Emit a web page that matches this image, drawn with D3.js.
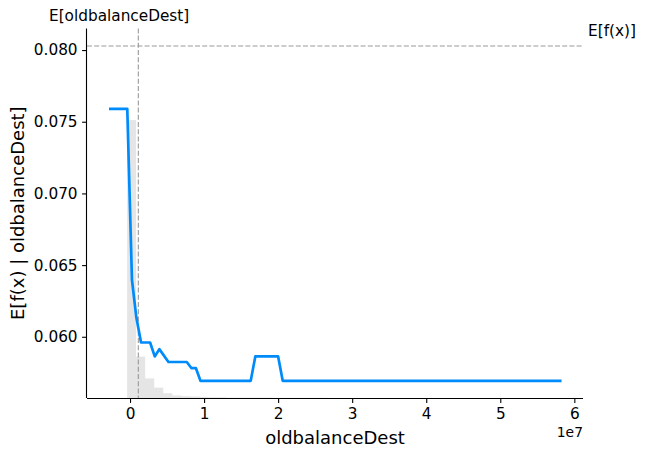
<!DOCTYPE html>
<html lang="en">
<head>
    <meta charset="UTF-8">
    <title>Partial dependence: oldbalanceDest</title>
    <style>
        body {
            margin: 0;
            background-color: white;
        }
        svg text {
            font-family: "DejaVu Sans", sans-serif;
            fill: #000;
        }
    </style>
    <script src="https://d3js.org/d3.v7.min.js"></script>
</head>
<body>
    <svg id="chart" width="645" height="457"></svg>
    <script>
        // partial dependence line (vertices of the model curve)
        const lineX = [-2840000, -370000, 260000, 860000, 1490000, 2710000, 3340000, 3960000,
            5190000, 7660000, 8280000, 8890000, 9510000, 16300000, 16920000, 20000000, 20620000, 58270000];
        const lineY = [0.07589, 0.07589, 0.06397, 0.06132, 0.05960, 0.05960, 0.05863, 0.05914,
            0.05824, 0.05824, 0.05782, 0.05782, 0.05693, 0.05693, 0.05863, 0.05863, 0.05693, 0.05693];

        // histogram of the feature, 50 bins over the line's range, as share of all rows
        const histShare = [0, 0, 0.752, 0.112, 0.053, 0.028, 0.013, 0.007, 0.005, 0.004,
            0.003, 0.002, 0.002, 0.001, 0.001, 0.001, 0.001, 0.001, 0.0005, 0.0005,
            0.0005, 0.0005, 0.0005, 0.0005, 0, 0, 0, 0, 0, 0,
            0, 0, 0, 0, 0, 0, 0, 0, 0, 0,
            0, 0, 0, 0, 0, 0, 0, 0, 0, 0];

        const meanX = 1120000;          // E[oldbalanceDest]
        const expectedValue = 0.08028;  // E[f(x)]

        const xTicks = [0, 1e7, 2e7, 3e7, 4e7, 5e7, 6e7];
        const yTicks = [0.060, 0.065, 0.070, 0.075, 0.080];

        const featureName = "oldbalanceDest";

        const svg = d3.select('#chart');
        const plotLeft = 87, plotRight = 583, plotTop = 28.4, plotBottom = 398;
        const blue = '#008BFB';

        const x = d3.scaleLinear().domain([-5.81e6, 61.17e6]).range([plotLeft, plotRight]);
        const y = d3.scaleLinear().domain([0.05573, 0.08151]).range([plotBottom, plotTop]);
        // twin axes used for the histogram and the E[feature] label
        const xHist = d3.scaleLinear().domain([lineX[0], lineX[lineX.length - 1]]).range([plotLeft, plotRight]);
        const yHist = d3.scaleLinear().domain([0, 1]).range([plotBottom, plotTop]);

        // histogram
        const binW = (lineX[lineX.length - 1] - lineX[0]) / histShare.length;
        svg.append('g')
            .selectAll('rect')
            .data(histShare)
            .enter().append('rect')
            .attr('x', (d, i) => x(lineX[0] + i * binW))
            .attr('width', (d, i) => x(lineX[0] + (i + 1) * binW) - x(lineX[0] + i * binW))
            .attr('y', d => yHist(d))
            .attr('height', d => plotBottom - yHist(d))
            .attr('fill', 'black')
            .attr('fill-opacity', 0.1);

        // reference lines
        svg.append('line')
            .attr('x1', x(meanX)).attr('x2', x(meanX))
            .attr('y1', plotTop).attr('y2', plotBottom)
            .attr('stroke', '#999999').attr('stroke-width', 1.1)
            .attr('stroke-dasharray', '5,2.2');

        svg.append('line')
            .attr('x1', plotLeft).attr('x2', plotRight)
            .attr('y1', y(expectedValue)).attr('y2', y(expectedValue))
            .attr('stroke', '#999999').attr('stroke-width', 1.1)
            .attr('stroke-dasharray', '5,2.2');

        // dependence line
        const line = d3.line()
            .x(d => x(d[0]))
            .y(d => y(d[1]));
        svg.append('path')
            .datum(d3.zip(lineX, lineY))
            .attr('d', line)
            .attr('fill', 'none')
            .attr('stroke', blue)
            .attr('stroke-width', 2.7)
            .attr('stroke-linejoin', 'round');

        // axes
        const xAxis = svg.append('g')
            .attr('transform', `translate(0,${plotBottom})`)
            .call(d3.axisBottom(x).tickValues(xTicks).tickSize(4.9).tickPadding(5.5)
                .tickFormat(d => d3.format('d')(d / 1e7)));
        xAxis.select('.domain').attr('d', `M${plotLeft},0.5H${plotRight}`);

        const yAxis = svg.append('g')
            .attr('transform', `translate(${plotLeft},0)`)
            .call(d3.axisLeft(y).tickValues(yTicks).tickSize(4.9).tickPadding(4.5)
                .tickFormat(d3.format('.3f')));
        yAxis.select('.domain').attr('d', `M-0.5,${plotTop}V${plotBottom}`);

        svg.selectAll('.domain').attr('stroke', '#000').attr('stroke-width', 1.1);
        svg.selectAll('.tick line').attr('stroke', '#000').attr('stroke-width', 1.1);
        svg.selectAll('.tick text').style('font-size', '15.3px').attr('fill', '#000');

        // offset text
        svg.append('text')
            .attr('x', plotRight)
            .attr('y', 437)
            .attr('text-anchor', 'end')
            .style('font-size', '13.9px')
            .text('1e7');

        // axis labels
        svg.append('text')
            .attr('x', (plotLeft + plotRight) / 2)
            .attr('y', 444)
            .attr('text-anchor', 'middle')
            .style('font-size', '18px')
            .text(featureName);

        svg.append('text')
            .attr('transform', `translate(24,${(plotTop + plotBottom) / 2}) rotate(-90)`)
            .attr('text-anchor', 'middle')
            .style('font-size', '18px')
            .text('E[f(x) | ' + featureName + ']');

        // expectation labels
        svg.append('text')
            .attr('x', xHist(meanX))
            .attr('y', 21)
            .attr('text-anchor', 'middle')
            .style('font-size', '15.3px')
            .text('E[' + featureName + ']');

        svg.append('text')
            .attr('x', plotRight + 5)
            .attr('y', y(expectedValue) - 10)
            .style('font-size', '15.3px')
            .text('E[f(x)]');
    </script>
</body>
</html>
